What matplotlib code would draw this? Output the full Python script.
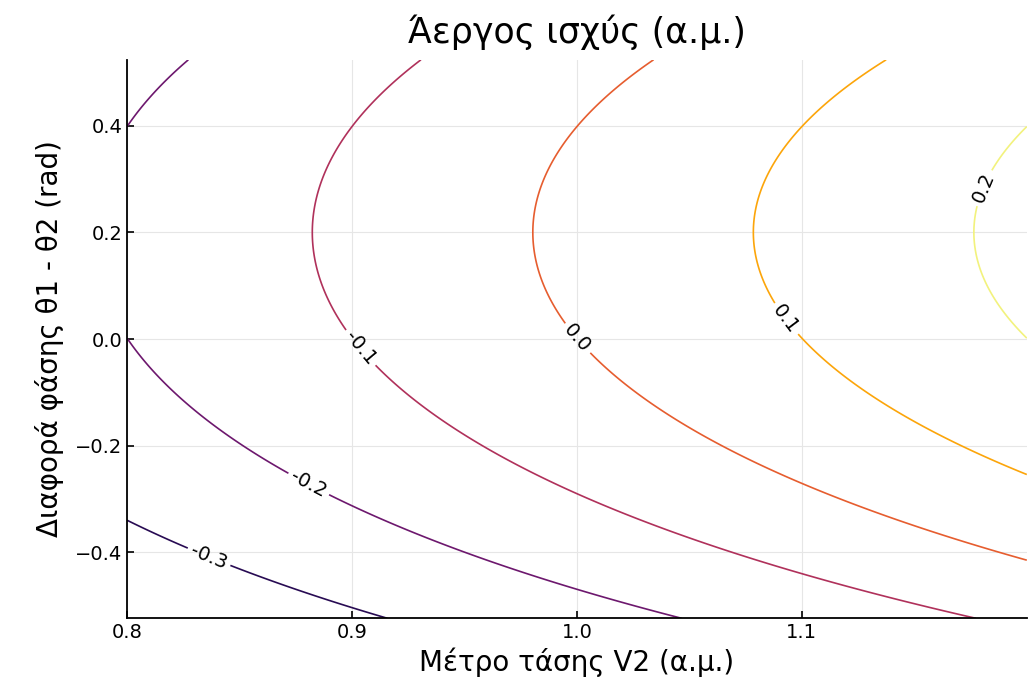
import numpy as np
import matplotlib.pyplot as plt
from matplotlib.colors import Normalize

# Παράμετροι μοντέλου (εκτίμηση από το διάγραμμα)
gain = 1.02          # συντελεστής V1/X
angle_shift = 0.2    # γωνία μετατόπισης (rad)
offset = 1.0

v2_range = [0.8, 1.2]
theta_range = [-np.pi / 6, np.pi / 6]
levels = [-0.3, -0.2, -0.1, 0.0, 0.1, 0.2]
xticks = [0.8, 0.9, 1.0, 1.1]
xtick_labels = ['0.8', '0.9', '1.0', '1.1']
yticks = [-0.4, -0.2, 0.0, 0.2, 0.4]
ytick_labels = ['\u22120.4', '\u22120.2', '0.0', '0.2', '0.4']

# θέσεις ετικετών των ισοϋψών
label_pos = [(0.836, -0.413), (0.880, -0.278), (0.902, -0.023),
             (1.001, 0.004), (1.094, 0.041), (1.185, 0.276)]

V2 = np.linspace(v2_range[0], v2_range[1], 400)
TH = np.linspace(theta_range[0], theta_range[1], 400)
VV, TT = np.meshgrid(V2, TH)
Q = gain * VV * np.cos(TT - angle_shift) - offset

fig = plt.figure(figsize=(10.33, 6.87), dpi=100)
ax = fig.add_axes([0.123, 0.100, 0.871, 0.813])

norm = Normalize(vmin=Q.min(), vmax=Q.max())
cs = ax.contour(VV, TT, Q, levels=levels, cmap='inferno', norm=norm, linewidths=1.2)
ax.clabel(cs, fmt='%.1f', fontsize=14, colors='black', manual=label_pos, inline_spacing=4)

ax.set_xlim(v2_range)
ax.set_ylim(theta_range)
ax.set_xticks(xticks)
ax.set_yticks(yticks)
ax.set_xticklabels(xtick_labels)
ax.set_yticklabels(ytick_labels)
ax.tick_params(direction='in', length=5, labelsize=14, width=1.2)
ax.grid(True, color='#e6e6e6', linewidth=0.8)
ax.spines['top'].set_visible(False)
ax.spines['right'].set_visible(False)
ax.spines['left'].set_linewidth(1.3)
ax.spines['bottom'].set_linewidth(1.3)

ax.set_title('Άεργος ισχύς (α.μ.)', fontsize=25, pad=12)
ax.set_xlabel('Μέτρο τάσης V2 (α.μ.)', fontsize=20, labelpad=4)
ax.set_ylabel('Διαφορά φάσης θ1 - θ2 (rad)', fontsize=20, labelpad=8)

fig.savefig('out.png', dpi=100)
